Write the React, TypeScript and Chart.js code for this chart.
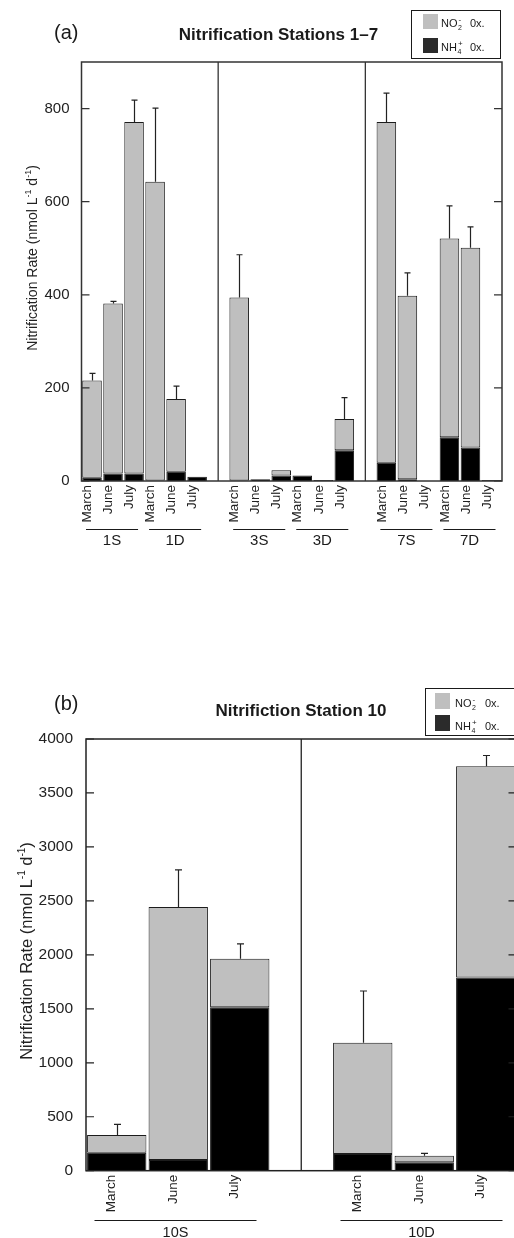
import React, { useEffect, useRef } from "react";
import { Chart, registerables } from "chart.js";

Chart.register(...registerables);

const FONT = '"Liberation Sans", Arial, Helvetica, sans-serif';
const GRAY = "#bfbfbf";
const BLACK = "#000000";
const EDGE = "#1c1c1c";
const INK = "#1a1a1a";

// ---------- Panel (a): Nitrification Stations 1–7 ----------
const aMonths = ["March", "June", "July", "March", "June", "July", "", "March", "June", "July", "March", "June", "July", "", "March", "June", "July", "March", "June", "July"];
const aTotal = [216, 381, 771, 643, 176, 9, null, 394, 4, 23, 12, 2, 133, null, 771, 398, null, 521, 501, 2];
const aNH4 = [7, 16, 16, 1, 20, 9, null, 1, 4, 12, 12, 2, 66, null, 39, 4, null, 94, 72, 2];
const aErr = [15, 5, 47, 158, 28, 0, null, 92, 0, 0, 0, 0, 46, null, 62, 49, null, 70, 45, 0];
const aGroupNames = ["1S", "1D", "3S", "3D", "7S", "7D"];
const aGroupFirst = [0, 3, 7, 10, 14, 17];
const aGroupLast = [2, 5, 9, 12, 16, 19];
const aDividers = [6, 13];
const aYTicks = [0, 200, 400, 600, 800];
const aYMax = 900;

// ---------- Panel (b): Nitrifiction Station 10 ----------
const bMonths = ["March", "June", "July", "", "March", "June", "July"];
const bTotal = [331, 2444, 1965, null, 1186, 139, 3747];
const bNH4 = [167, 99, 1514, null, 155, 78, 1789];
const bErr = [99, 343, 136, null, 479, 22, 100];
const bGroupNames = ["10S", "10D"];
const bGroupFirst = [0, 4];
const bGroupLast = [2, 6];
const bDividers = [3];
const bYTicks = [0, 500, 1000, 1500, 2000, 2500, 3000, 3500, 4000];
const bYMax = 4000;

type Seg = { t: string; size: number; dy: number };

function drawSegs(ctx: CanvasRenderingContext2D, segs: Seg[], x: number, y: number) {
  let w = 0;
  for (const s of segs) {
    ctx.font = `${s.size}px ${FONT}`;
    w += ctx.measureText(s.t).width;
  }
  let cx = x - w / 2;
  ctx.textAlign = "left";
  ctx.textBaseline = "alphabetic";
  for (const s of segs) {
    ctx.font = `${s.size}px ${FONT}`;
    ctx.fillText(s.t, cx, y + s.dy);
    cx += ctx.measureText(s.t).width;
  }
}

interface Spec {
  months: string[];
  total: (number | null)[];
  nh4: (number | null)[];
  err: (number | null)[];
  groupNames: string[];
  groupFirst: number[];
  groupLast: number[];
  dividers: number[];
  yTicks: number[];
  yMax: number;
  padTop: number;
  padRight: number;
  yWidth: number;
  xHeight: number;
  barPct: number;
  tickFont: number;
  yPad: number;
  monthFont: number;
  labelOffset: number;
  groupFont: number;
  groupLineDy: number;
  groupLabelDy: number;
  insetL: number;
  insetR: number;
  title: string;
  titleX: number;
  titleY: number;
  panel: string;
  panelX: number;
  panelY: number;
  yTitleX: number;
  yTitleY: number;
  yTitleSize: number;
  capW: number;
  frameColor: string;
  legend: { x: number; y: number; w: number; h: number; swX: number; sw1Y: number; sw2Y: number; swW: number; swH: number; textX: number; row1Y: number; row2Y: number; oxX: number };
}

function makeConfig(s: Spec): any {
  const decor = {
    id: "decor",
    afterDatasetsDraw(chart: any) {
      const ctx: CanvasRenderingContext2D = chart.ctx;
      const { left, right, top, bottom } = chart.chartArea;
      const xs = chart.scales.x;
      const ys = chart.scales.y;
      ctx.save();
      // error bars
      ctx.strokeStyle = "#222";
      ctx.lineWidth = 1.2;
      s.total.forEach((t, i) => {
        const e = s.err[i];
        if (t == null || !e) return;
        const x = Math.round(xs.getPixelForValue(i)) + 0.5;
        const y0 = ys.getPixelForValue(t);
        const y1 = ys.getPixelForValue(t + e);
        ctx.beginPath();
        ctx.moveTo(x, y0);
        ctx.lineTo(x, y1);
        ctx.moveTo(x - s.capW / 2, y1);
        ctx.lineTo(x + s.capW / 2, y1);
        ctx.stroke();
      });
      // dividers
      ctx.strokeStyle = s.frameColor;
      ctx.lineWidth = 1.3;
      s.dividers.forEach((d) => {
        const x = xs.getPixelForValue(d);
        ctx.beginPath();
        ctx.moveTo(x, top);
        ctx.lineTo(x, bottom);
        ctx.stroke();
      });
      // inward ticks
      ctx.lineWidth = 1.2;
      s.yTicks.forEach((v) => {
        const y = ys.getPixelForValue(v);
        ctx.beginPath();
        ctx.moveTo(left, y);
        ctx.lineTo(left + 8, y);
        ctx.moveTo(right, y);
        ctx.lineTo(right - 8, y);
        ctx.stroke();
      });
      // frame
      ctx.lineWidth = 1.5;
      ctx.strokeRect(left, top, right - left, bottom - top);
      // group underlines and labels
      const slot = xs.getPixelForValue(1) - xs.getPixelForValue(0);
      ctx.strokeStyle = INK;
      ctx.lineWidth = 1;
      ctx.fillStyle = INK;
      ctx.font = `${s.groupFont}px ${FONT}`;
      ctx.textAlign = "center";
      ctx.textBaseline = "alphabetic";
      s.groupNames.forEach((g, k) => {
        const x0 = xs.getPixelForValue(s.groupFirst[k]) - slot / 2 + s.insetL;
        const x1 = xs.getPixelForValue(s.groupLast[k]) + slot / 2 - s.insetR;
        const y = Math.round(bottom + s.groupLineDy) + 0.5;
        ctx.beginPath();
        ctx.moveTo(x0, y);
        ctx.lineTo(x1, y);
        ctx.stroke();
        ctx.fillText(g, (x0 + x1) / 2, bottom + s.groupLabelDy);
      });
      // title and panel label
      ctx.font = `bold 17px ${FONT}`;
      ctx.textAlign = "center";
      ctx.fillText(s.title, s.titleX, s.titleY);
      ctx.font = `20px ${FONT}`;
      ctx.textAlign = "left";
      ctx.fillText(s.panel, s.panelX, s.panelY);
      // y axis title
      ctx.save();
      ctx.translate(s.yTitleX, s.yTitleY);
      ctx.rotate(-Math.PI / 2);
      ctx.fillStyle = "#222";
      const big = s.yTitleSize;
      const small = Math.round(big * 0.62);
      drawSegs(ctx, [
        { t: "Nitrification Rate (nmol L", size: big, dy: 0 },
        { t: "-1", size: small, dy: -big * 0.42 },
        { t: " d", size: big, dy: 0 },
        { t: "-1", size: small, dy: -big * 0.42 },
        { t: ")", size: big, dy: 0 },
      ], 0, 0);
      ctx.restore();
      // legend
      const L = s.legend;
      ctx.strokeStyle = INK;
      ctx.lineWidth = 1;
      ctx.strokeRect(L.x, L.y, L.w, L.h);
      ctx.fillStyle = GRAY;
      ctx.fillRect(L.swX, L.sw1Y, L.swW, L.swH);
      ctx.fillStyle = "#2b2b2b";
      ctx.fillRect(L.swX, L.sw2Y, L.swW, L.swH);
      ctx.fillStyle = INK;
      ctx.textAlign = "left";
      const rows: [string, string, string, number][] = [
        ["NO", "2", "-", L.row1Y],
        ["NH", "4", "+", L.row2Y],
      ];
      rows.forEach(([base, sub, sup, y]) => {
        ctx.font = `11px ${FONT}`;
        ctx.fillText(base, L.textX, y);
        const w = ctx.measureText(base).width;
        ctx.font = `7px ${FONT}`;
        ctx.fillText(sub, L.textX + w + 0.5, y + 3);
        ctx.font = `8px ${FONT}`;
        ctx.fillText(sup, L.textX + w + 1, y - 5);
        ctx.font = `11px ${FONT}`;
        ctx.fillText("0x.", L.oxX, y);
      });
      ctx.restore();
    },
  };

  const grayData = s.total.map((t, i) => {
    const n = s.nh4[i];
    if (t == null || n == null || t <= n) return null;
    return [n, t];
  });
  const blackData = s.nh4.map((n) => (n == null || n <= 0 ? null : [0, n]));

  return {
    type: "bar",
    data: {
      labels: s.months,
      datasets: [
        {
          label: "NH4+ Ox.",
          data: blackData,
          backgroundColor: BLACK,
          borderColor: EDGE,
          borderWidth: 1,
          borderSkipped: "start",
          grouped: false,
          barPercentage: s.barPct,
          categoryPercentage: 1,
        },
        {
          label: "NO2- Ox.",
          data: grayData,
          backgroundColor: GRAY,
          borderColor: EDGE,
          borderWidth: 1,
          borderSkipped: false,
          grouped: false,
          barPercentage: s.barPct,
          categoryPercentage: 1,
        },
      ],
    },
    options: {
      responsive: false,
      animation: false,
      devicePixelRatio: 1,
      layout: { padding: { top: s.padTop, right: s.padRight, left: 0, bottom: 0 } },
      plugins: { legend: { display: false }, tooltip: { enabled: false }, title: { display: false } },
      scales: {
        x: {
          grid: { display: false, drawTicks: false },
          border: { display: false },
          ticks: {
            autoSkip: false,
            minRotation: 90,
            maxRotation: 90,
            padding: 4,
            labelOffset: s.labelOffset,
            color: "#222",
            font: { family: FONT, size: s.monthFont },
          },
          afterFit: (sc: any) => {
            sc.height = s.xHeight;
          },
        },
        y: {
          min: 0,
          max: s.yMax,
          grid: { display: false, drawTicks: false },
          border: { display: false },
          ticks: {
            padding: s.yPad,
            color: "#222",
            font: { family: FONT, size: s.tickFont },
            callback: (v: any) => String(v),
          },
          afterBuildTicks: (sc: any) => {
            sc.ticks = s.yTicks.map((v) => ({ value: v }));
          },
          afterFit: (sc: any) => {
            sc.width = s.yWidth;
          },
        },
      },
    },
    plugins: [decor],
  };
}

const specA: Spec = {
  months: aMonths, total: aTotal, nh4: aNH4, err: aErr,
  groupNames: aGroupNames, groupFirst: aGroupFirst, groupLast: aGroupLast,
  dividers: aDividers, yTicks: aYTicks, yMax: aYMax,
  padTop: 62, padRight: 12, yWidth: 81.5, xHeight: 139,
  barPct: 0.93, tickFont: 15, yPad: 12, monthFont: 13.5, labelOffset: -4.5,
  groupFont: 15, groupLineDy: 48, groupLabelDy: 64, insetL: 4.5, insetR: 6.5,
  title: "Nitrification Stations 1–7", titleX: 278.5, titleY: 40,
  panel: "(a)", panelX: 54, panelY: 39,
  yTitleX: 37, yTitleY: 258, yTitleSize: 14,
  capW: 6, frameColor: "#333",
  legend: { x: 411.5, y: 10.5, w: 89, h: 48, swX: 423, sw1Y: 14, sw2Y: 38, swW: 15, swH: 15, textX: 441, row1Y: 27, row2Y: 51, oxX: 470 },
};

const specB: Spec = {
  months: bMonths, total: bTotal, nh4: bNH4, err: bErr,
  groupNames: bGroupNames, groupFirst: bGroupFirst, groupLast: bGroupLast,
  dividers: bDividers, yTicks: bYTicks, yMax: bYMax,
  padTop: 99, padRight: 43.5, yWidth: 86, xHeight: 67.3,
  barPct: 0.965, tickFont: 15.5, yPad: 13, monthFont: 13.5, labelOffset: -5,
  groupFont: 14.5, groupLineDy: 49.3, groupLabelDy: 66, insetL: 8.5, insetR: 14,
  title: "Nitrifiction Station 10", titleX: 301, titleY: 76,
  panel: "(b)", panelX: 54, panelY: 70,
  yTitleX: 32, yTitleY: 311, yTitleSize: 16.5,
  capW: 7, frameColor: "#222",
  legend: { x: 425.5, y: 48.5, w: 130, h: 47, swX: 435, sw1Y: 53, sw2Y: 75, swW: 15, swH: 16, textX: 455, row1Y: 67, row2Y: 90, oxX: 485 },
};

export default function App() {
  const refA = useRef<HTMLCanvasElement>(null);
  const refB = useRef<HTMLCanvasElement>(null);
  useEffect(() => {
    const a = new Chart(refA.current as HTMLCanvasElement, makeConfig(specA));
    const b = new Chart(refB.current as HTMLCanvasElement, makeConfig(specB));
    return () => {
      a.destroy();
      b.destroy();
    };
  }, []);
  return (
    <div style={{ position: "absolute", left: 0, top: 0, width: 514, height: 1238, overflow: "hidden", background: "#fff" }}>
      <canvas ref={refA} width={514} height={620} style={{ position: "absolute", left: 0, top: 0, width: 514, height: 620 }} />
      <canvas ref={refB} width={560} height={598} style={{ position: "absolute", left: 0, top: 640, width: 560, height: 598 }} />
    </div>
  );
}
